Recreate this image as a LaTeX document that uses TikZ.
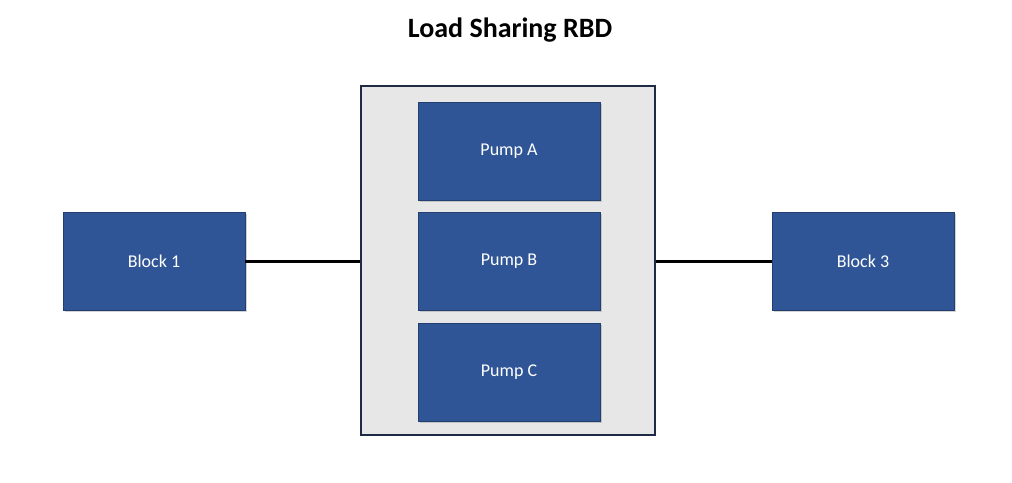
\documentclass[tikz,border=0pt]{standalone}
\usepackage{fontspec}
\setmainfont{Carlito}
\usetikzlibrary{shadows}
\definecolor{blk}{HTML}{2F5597}
\definecolor{blkd}{HTML}{22406F}
\definecolor{cont}{HTML}{E7E7E7}
\definecolor{contd}{HTML}{1F2A44}
\tikzset{blockbox/.style={draw=blkd,line width=0.8pt,fill=blk,text=white,minimum width=182pt,minimum height=98pt,inner sep=0pt,font=\fontsize{18}{20}\selectfont,drop shadow={shadow xshift=2pt,shadow yshift=-2pt,opacity=0.35}},
conn/.style={line width=3pt,black}}
\begin{document}
\begin{tikzpicture}[x=1pt,y=-1pt]
\useasboundingbox (0,0) rectangle (1012,482);
\node[font=\bfseries\fontsize{28}{32}\selectfont] (title) at (510,30) {Load Sharing RBD};
\node[draw=contd,line width=2.5pt,fill=cont,minimum width=294pt,minimum height=349pt,inner sep=0pt] (box) at (508,260.5) {};
\node[blockbox] (b1) at (154,261) {Block 1};
\node[blockbox] (b3) at (863,261) {Block 3};
\node[blockbox] (pa) at (509,151) {Pump A};
\node[blockbox] (pb) at (509,261) {Pump B};
\node[blockbox] (pc) at (509,372) {Pump C};
\draw[conn] (b1.east) -- (b1.east -| box.west);
\draw[conn] (b3.west) -- (b3.west -| box.east);
\end{tikzpicture}
\end{document}
